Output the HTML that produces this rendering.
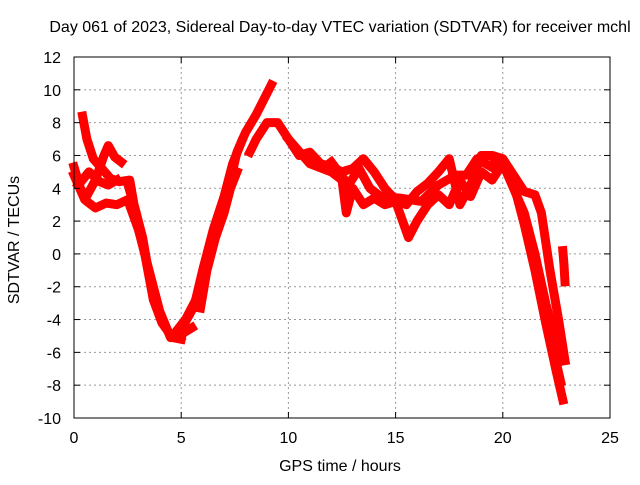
<!DOCTYPE html>
<html><head><meta charset="utf-8"><style>
body{margin:0;background:#fff;}
svg text{font-family:"Liberation Sans",sans-serif;font-size:16px;fill:#000;}
</style></head><body>
<svg id="chart" width="640" height="480" viewBox="0 0 640 480" xmlns="http://www.w3.org/2000/svg">
<rect width="640" height="480" fill="#fff"/>
<text x="340" y="32" text-anchor="middle">Day 061 of 2023, Sidereal Day-to-day VTEC variation (SDTVAR) for receiver mchl</text>
<g id="grid"></g>
<g id="series"></g>
<rect x="74" y="57" width="536" height="361" fill="none" stroke="#000" stroke-width="1"/>
<g id="ticks"></g>
<text x="340" y="471" text-anchor="middle">GPS time / hours</text>
<text x="19" y="240" text-anchor="middle" transform="rotate(-90 19 240)">SDTVAR / TECUs</text>
</svg>
<script>
const xTicks=[0,5,10,15,20,25];
const yTicks=[-10,-8,-6,-4,-2,0,2,4,6,8,10,12];
const traceA=[[0.4,8.4],[0.6,7],[0.9,5.8],[1.3,5.2],[1.7,4.6],[2.1,4.4],[2.6,4.5],[2.8,3],[3.2,1],[3.6,-2],[4.0,-3.8],[4.5,-5],[5,-4.9],[5.5,-4.5]];
const traceA2=[[2.5,4.3],[2.9,2.5],[3.3,0],[3.7,-2.8],[4.1,-4.2],[4.6,-5.1],[5.0,-5.2]];
const traceB=[[0,5.3],[0.3,4],[0.6,3.2],[1,2.8],[1.5,3.1],[2,3],[2.5,3.3],[3,1.5],[3.5,-1],[4,-3.5],[4.5,-5.1],[5,-5]];
const traceC=[[0,4.8],[0.5,3.3],[1.0,4.5],[1.4,6],[1.6,6.6],[1.9,5.9],[2.2,5.6]];
const traceD=[[0.2,4.2],[0.7,5],[1.2,4.4],[1.6,4.2],[2.0,4.5]];
const traceE=[[4.6,-5],[5.2,-4],[5.8,-2.5],[6.3,0],[6.8,2.5],[7.3,4.5],[7.6,6.2],[8,7.4],[8.5,8.5],[9.2,10.3]];
const traceE2=[[5.0,-4.6],[5.6,-3.2],[6.0,-1],[6.5,1.5],[7.0,3.5],[7.4,5.5],[7.8,6.8]];
const traceF=[[5.9,-3.3],[6.2,-1],[6.6,1],[7.0,2.5],[7.3,4],[7.6,5]];
const traceG=[[8.2,6.2],[8.5,7],[9,8],[9.5,8],[10,7],[10.5,6],[11,6.2],[11.5,5.5],[12,5.3],[12.5,5],[13,5.2],[13.5,5.8],[14,5],[14.5,4],[15,3.3],[15.5,3],[16,3.8],[16.5,4.3],[17,5],[17.5,5.8],[18,3],[18.5,4.2],[19,6],[19.5,6],[20,5.8],[20.5,4.8],[21,3.8],[21.5,3.6],[21.8,2.5],[22.2,-1],[22.6,-4],[22.9,-6.5]];
const traceH=[[10,7],[11,5.5],[12,5],[12.5,4.5],[12.7,2.5],[13,4],[13.5,3],[14,3.4],[14.5,3],[15,3.2],[15.6,1],[16,2],[16.5,3],[17,3.6],[17.5,3],[18,4.5],[18.5,3.5],[19,5],[19.5,4.5],[20,5.5],[20.5,4],[21,2.5],[21.5,0],[22,-3],[22.5,-5.5],[22.8,-6.5]];
const traceK=[[12,5.6],[12.8,4.2],[13.3,5.2],[13.8,4],[14.3,3.5],[15.2,3.4],[16.2,3.2],[17,4.2],[17.8,4.8],[18.3,4.8],[18.8,5.8],[19.6,5.2],[20.2,5.2],[20.8,3],[21.3,0.5],[21.8,-2.5],[22.3,-5.5],[22.7,-7.8]];
const traceI=[[19.6,5.8],[20.2,5],[20.6,3.8],[21,1.8],[21.5,-1],[22,-4.2],[22.5,-7.2],[22.8,-8.9]];
const traceJ=[[22.8,0.2],[22.85,-0.6],[22.9,-1.7]];
const traces=[traceA,traceA2,traceB,traceC,traceD,traceE,traceE2,traceF,traceG,traceH,traceK,traceI,traceJ];
const X=h=>74+h*536/25, Y=v=>418-(v+10)*361/22;
const NS="http://www.w3.org/2000/svg";
const grid=document.getElementById('grid'),ticks=document.getElementById('ticks'),ser=document.getElementById('series');
function mk(t,a,p){const e=document.createElementNS(NS,t);for(const k in a)e.setAttribute(k,a[k]);p.appendChild(e);return e;}
xTicks.forEach(t=>{const x=X(t);
 if(t>0&&t<25){const g=mk('line',{x1:x,x2:x,y1:57,y2:418,stroke:'#999','stroke-dasharray':'2,3'},grid);
 
 }
 mk('line',{x1:x,x2:x,y1:418,y2:412,stroke:'#000'},ticks);mk('line',{x1:x,x2:x,y1:57,y2:63,stroke:'#000'},ticks);
 const l=mk('text',{x:x,y:443,'text-anchor':'middle'},ticks);l.textContent=t;
 
 });
yTicks.forEach(t=>{const y=Y(t);
 if(t>-10&&t<12){const g=mk('line',{x1:74,x2:610,y1:y,y2:y,stroke:'#999','stroke-dasharray':'2,3'},grid);
 
 }
 mk('line',{x1:74,x2:80,y1:y,y2:y,stroke:'#000'},ticks);mk('line',{x1:604,x2:610,y1:y,y2:y,stroke:'#000'},ticks);
 const l=mk('text',{x:61,y:y+6,'text-anchor':'end'},ticks);l.textContent=t;
 
 });
traces.forEach(tr=>{const p=mk('polyline',{points:tr.map(d=>X(d[0])+','+Y(d[1])).join(' '),fill:'none',stroke:'#f00','stroke-width':9,'stroke-linejoin':'round','stroke-linecap':'square'},ser);
 
 });
</script>
</body></html>
